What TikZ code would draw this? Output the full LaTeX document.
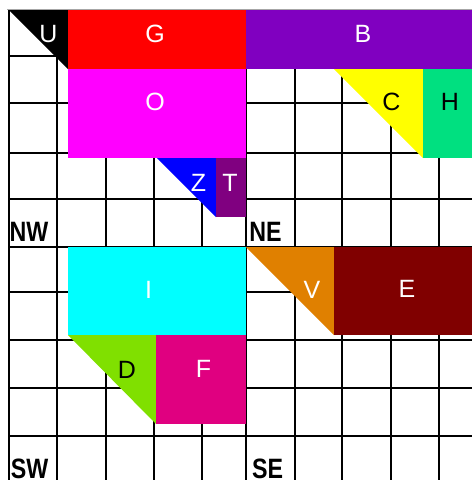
\documentclass[tikz,border=0pt]{standalone}
\usepackage{fontspec}
\setmainfont{Liberation Sans}
\newcommand\lblfont{\fontsize{25}{25}\selectfont}
\newcommand\quadfont{\fontsize{28}{28}\selectfont\bfseries}
\definecolor{cG}{RGB}{255,0,0}
\definecolor{cB}{RGB}{128,0,192}
\definecolor{cO}{RGB}{255,0,255}
\definecolor{cC}{RGB}{255,255,0}
\definecolor{cH}{RGB}{0,224,128}
\definecolor{cZ}{RGB}{0,0,255}
\definecolor{cT}{RGB}{128,0,128}
\definecolor{cI}{RGB}{0,255,255}
\definecolor{cV}{RGB}{224,128,0}
\definecolor{cE}{RGB}{128,0,0}
\definecolor{cD}{RGB}{128,224,0}
\definecolor{cF}{RGB}{224,0,128}
\begin{document}
\begin{tikzpicture}[x=1pt,y=-1pt,
  gridline/.style={line width=2pt,black},
  lab/.style={inner sep=0pt,font=\lblfont},
  wlab/.style={lab,text=white},
  blab/.style={lab,text=black},
  quad/.style={inner sep=0pt,font=\quadfont,text=black}]
\useasboundingbox (0,0) rectangle (472,480);
\fill[white] (0,0) rectangle (472,480);
% grid
\draw[gray!70,line width=1pt] (7,9.5) -- (472,9.5);
\foreach \x in {9.3,57.3,105.5,154,202,246,295,342.3,390.7,439}
  \draw[gridline] (\x,10) -- (\x,480);
\foreach \y in {55.7,103.3,152.7,199,247.3,291.7,340,388.3,436}
  \draw[gridline] (8.3,\y) -- (472,\y);
% shapes
\fill[black] (9,10) -- (68,10) -- (68,69) -- cycle;
\fill[cG] (68,10) rectangle (246,69);
\fill[cB] (246,10) rectangle (472,69);
\fill[cO] (68,69) rectangle (246,158);
\fill[cC] (334,69) -- (423,69) -- (423,158) -- cycle;
\fill[cH] (423,69) rectangle (472,158);
\fill[cZ] (157,158) -- (216,158) -- (216,217) -- cycle;
\fill[cT] (216,158) rectangle (246,217);
\fill[cI] (68,247) rectangle (246,335);
\fill[cV] (246,247) -- (334,247) -- (334,335) -- cycle;
\fill[cE] (334,247) rectangle (472,335);
\fill[cD] (68,335) -- (156,335) -- (156,424) -- cycle;
\fill[cF] (156,335) rectangle (246,424);
% labels
\node[wlab] (u) at (48.5,34) {U};
\node[wlab] (g) at (155,34) {G};
\node[wlab] (b) at (363,34) {B};
\node[wlab] (o) at (155,102) {O};
\node[blab] (c) at (391.5,102) {C};
\node[blab] (h) at (450,102) {H};
\node[wlab] (z) at (198.5,182.5) {Z};
\node[wlab] (t) at (230,182.5) {T};
\node[wlab] (i) at (148.5,290) {I};
\node[wlab] (v) at (312,290) {V};
\node[wlab] (e) at (407,289) {E};
\node[blab] (d) at (127,370) {D};
\node[wlab] (f) at (203.5,369) {F};
\node[quad] (nw) at (29,232) {\scalebox{0.83}[1]{NW}};
\node[quad] (ne) at (265.5,232) {\scalebox{0.83}[1]{NE}};
\node[quad] (sw) at (29.5,468.5) {\scalebox{0.83}[1]{SW}};
\node[quad] (se) at (267.5,468.5) {\scalebox{0.83}[1]{SE}};
\end{tikzpicture}
\end{document}
